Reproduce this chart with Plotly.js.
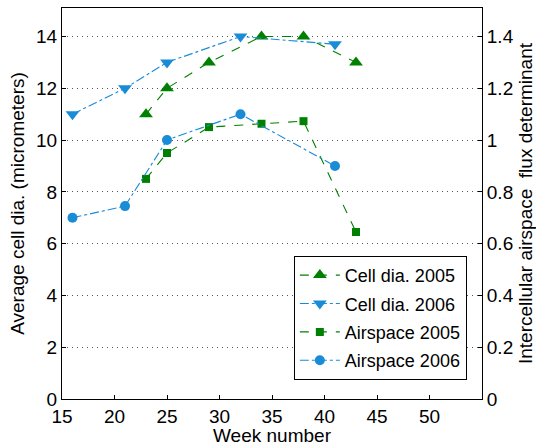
<!DOCTYPE html>
<html>
<head>
<meta charset="utf-8">
<script src="https://cdn.plot.ly/plotly-3.0.1.min.js"></script>
<style>html,body{margin:0;padding:0;background:#fff;}#chart{width:536px;height:446px;}</style>
</head>
<body>
<div id="chart"></div>
<script>
// Data
const weeks2005 = [23, 25, 29, 34, 38, 43];
const weeks2006Cell = [16, 21, 25, 32, 41];
const weeks2006Air = [16, 21, 25, 32, 41];
const cellDia2005 = [11, 12, 13, 14, 14, 13];
const cellDia2006 = [11, 12, 13, 14, 13.7];
const airspace2005 = [0.85, 0.95, 1.05, 1.063, 1.073, 0.645];
const airspace2006 = [0.70, 0.745, 1.0, 1.1, 0.9];
const xTicks = [15, 20, 25, 30, 35, 40, 45, 50];
const leftTicks = [0, 2, 4, 6, 8, 10, 12, 14];
const rightTicks = [0, 0.2, 0.4, 0.6, 0.8, 1, 1.2, 1.4];
const seriesNames = ['Cell dia. 2005', 'Cell dia. 2006', 'Airspace 2005', 'Airspace 2006'];

const green = '#008000';
const blue = '#1a8bd6';
const FONT = 'Liberation Sans, Arial, Helvetica, sans-serif';

const traces = [
  {x: weeks2005, y: cellDia2005, name: seriesNames[0], legendgroup: 'a', mode: 'lines+markers', yaxis: 'y',
   line: {color: green, width: 1.1, dash: 'dash'}, marker: {symbol: 'triangle-up', size: 12, color: green}},
  {x: weeks2006Cell, y: cellDia2006, name: seriesNames[1], legendgroup: 'b', mode: 'lines+markers', yaxis: 'y',
   line: {color: blue, width: 1.1, dash: 'dashdot'}, marker: {symbol: 'triangle-down', size: 12, color: blue}},
  {x: weeks2005, y: airspace2005, name: seriesNames[2], legendgroup: 'c', mode: 'lines+markers', yaxis: 'y2',
   line: {color: green, width: 1.1, dash: 'dash'}, marker: {symbol: 'square', size: 8, color: green}},
  {x: weeks2006Air, y: airspace2006, name: seriesNames[3], legendgroup: 'd', mode: 'lines+markers', yaxis: 'y2',
   line: {color: blue, width: 1.1, dash: 'dashdot'}, marker: {symbol: 'circle', size: 10, color: blue}}
];

const layout = {
  width: 536, height: 446,
  margin: {l: 62, r: 54, t: 8, b: 47},
  paper_bgcolor: '#fff', plot_bgcolor: '#fff',
  font: {family: FONT, size: 19, color: '#000'},
  showlegend: true,
  legend: {x: 0.552, y: 0.366, xanchor: 'left', yanchor: 'top', bgcolor: '#fff',
           bordercolor: '#000', borderwidth: 1, font: {family: FONT, size: 18, color: '#000'},
           itemwidth: 40, traceorder: 'grouped', tracegroupgap: 2},
  xaxis: {range: [15, 55], tickvals: xTicks, ticks: 'inside', ticklen: 4, tickcolor: '#000',
          showline: true, linecolor: '#000', linewidth: 1, mirror: true, showgrid: false, zeroline: false,
          title: {text: 'Week number', font: {family: FONT, size: 19, color: '#000'}, standoff: 0},
          tickfont: {family: FONT, size: 19, color: '#000'}},
  yaxis: {range: [0, 15.1], tickvals: leftTicks, ticks: 'inside', ticklen: 4, tickcolor: '#000',
          showline: true, linecolor: '#000', linewidth: 1, zeroline: false,
          showgrid: true, gridcolor: '#555', griddash: '1px,4px', gridwidth: 1,
          title: {text: 'Average cell dia. (micrometers)', font: {family: FONT, size: 19, color: '#000'}, standoff: 6},
          tickfont: {family: FONT, size: 19, color: '#000'}},
  yaxis2: {range: [0, 1.51], tickvals: rightTicks, overlaying: 'y', side: 'right', ticks: 'inside', ticklen: 4,
          tickcolor: '#000', showline: true, linecolor: '#000', linewidth: 1, zeroline: false, showgrid: false,
          title: {text: 'Intercellular airspace  flux determinant', font: {family: FONT, size: 19, color: '#000'}, standoff: 6},
          tickfont: {family: FONT, size: 19, color: '#000'}}
};

Plotly.newPlot('chart', traces, layout, {displayModeBar: false, staticPlot: true});
</script>
</body>
</html>
